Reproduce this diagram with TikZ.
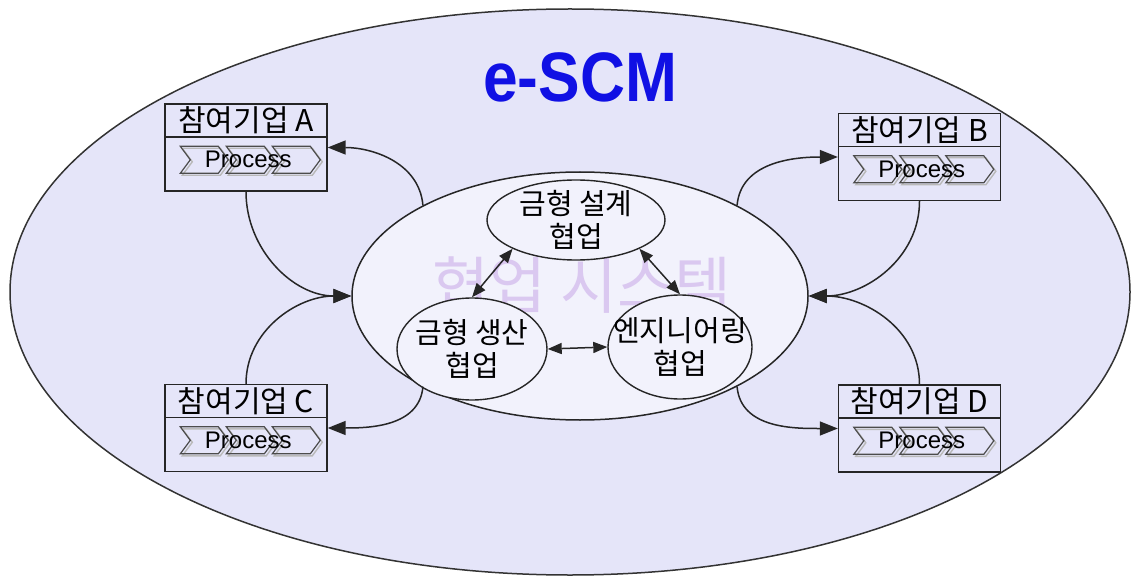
\documentclass[tikz,border=0pt]{standalone}
\usepackage{fontspec}
\setmainfont{Noto Sans CJK KR}
\newfontfamily\titlefont{Liberation Sans}
\newfontfamily\procfont{Liberation Sans}
\usepackage{tikz}
\usetikzlibrary{shapes.geometric, positioning, calc, arrows.meta}

\definecolor{bglav}{RGB}{229,229,249}
\definecolor{innerlav}{RGB}{242,242,252}
\definecolor{titleblue}{RGB}{16,16,228}
\definecolor{marklav}{RGB}{218,200,240}

\tikzset{
  firm/.style={draw=black!85, fill=bglav, line width=1.4pt,
    minimum width=162pt, minimum height=87pt, inner sep=0pt},
  firmhead/.style={draw=black!85, line width=1.4pt, minimum width=162pt,
    minimum height=33pt, inner sep=0pt, font=\fontsize{30}{30}\selectfont},
  task/.style={ellipse, draw=black!85, fill=innerlav, line width=1.4pt, inner sep=0pt},
  tasktext/.style={align=center, inner sep=0pt, font=\fontsize{29}{33}\selectfont},
  link/.style={{Triangle[length=14pt,width=11pt]}-{Triangle[length=14pt,width=11pt]},
    line width=1.5pt, black!85},
  flow/.style={-{Triangle[length=18pt,width=14pt]}, line width=1.5pt, black!85},
  pics/chevron/.style={code={
    \draw[gray!55, line width=1.4pt] (2,-2) -- (40,-2) -- (50,-15.5) -- (40,-29)
      -- (2,-29) -- (12,-15.5) -- cycle;
    \draw[black!70, line width=1.2pt] (0,0) -- (38,0) -- (48,-13.5) -- (38,-27)
      -- (0,-27) -- (10,-13.5) -- cycle;
  }}
}

\begin{document}
\begin{tikzpicture}[x=1pt, y=1pt]
    \useasboundingbox (0,0) rectangle (1135,582);

    % =========================================================================
    % BACKGROUND: e-SCM domain
    % =========================================================================
    \node[ellipse, draw=black!80, fill=bglav, line width=1.5pt,
          minimum width=1120pt, minimum height=566pt] (escm) at (570,290) {};
    \node[text=titleblue, font=\titlefont\bfseries\fontsize{70}{70}\selectfont]
        (title) at (580,505) {\scalebox{0.89}[1]{e-SCM}};

    % =========================================================================
    % CENTRE: collaboration system
    % =========================================================================
    \node[ellipse, draw=black!85, fill=innerlav, line width=1.5pt,
          minimum width=456pt, minimum height=248pt] (collab) at (580,286) {};
    \node[text=marklav, font=\fontsize{62}{62}\selectfont] (mark) at (582,297) {협업 시스템};

    % ellipse sizes are fixed, the text sits on top as a centre label
    \node[task, minimum width=178pt, minimum height=80pt,
          label={[tasktext]center:금형 설계\\협업}] (design) at (576,362) {};
    \node[task, minimum width=150pt, minimum height=102pt,
          label={[tasktext]center:금형 생산\\협업}] (prod) at (472,233) {};
    \node[task, minimum width=144pt, minimum height=104pt,
          label={[tasktext]center:엔지니어링\\협업}] (eng) at (680,235) {};

    \draw[link] (design.south west) -- (prod.north);
    \draw[link] (design.south east) -- (eng.north);
    \draw[link] (prod.east) -- (eng.west);

    % =========================================================================
    % CORNERS: participating companies with their process chain
    % =========================================================================
    \foreach \name/\x/\y in {A/246/434.5, B/919.5/425, C/246/154, D/919.5/153.5} {
        \node[firm] (firm\name) at (\x,\y) {};
        \node[firmhead, anchor=north] (head\name) at (firm\name.north) {참여기업 \name};
        \foreach \i in {0,1,2}
            \pic at ($(firm\name.north west)+(16+46*\i,-43)$) {chevron};
        \node[font=\procfont\fontsize{24}{24}\selectfont] (proc\name)
            at ($(firm\name.north west)+(84,-56.5)$) {Process};
    }

    % Left side flows
    \draw[flow] (collab.150) to[out=95, in=0] (firmA.east);
    \draw[flow] (firmA.south) to[out=-90, in=180] (collab.west);
    \draw[flow] (firmC.north) to[out=90, in=180] (collab.west);
    \draw[flow] (collab.210) to[out=-95, in=0] (firmC.east);

    % Right side flows
    \draw[flow] (collab.30) to[out=85, in=180] (firmB.west);
    \draw[flow] (firmB.south) to[out=-90, in=0] (collab.east);
    \draw[flow] (firmD.north) to[out=90, in=0] (collab.east);
    \draw[flow] (collab.330) to[out=-85, in=180] (firmD.west);

\end{tikzpicture}
\end{document}
